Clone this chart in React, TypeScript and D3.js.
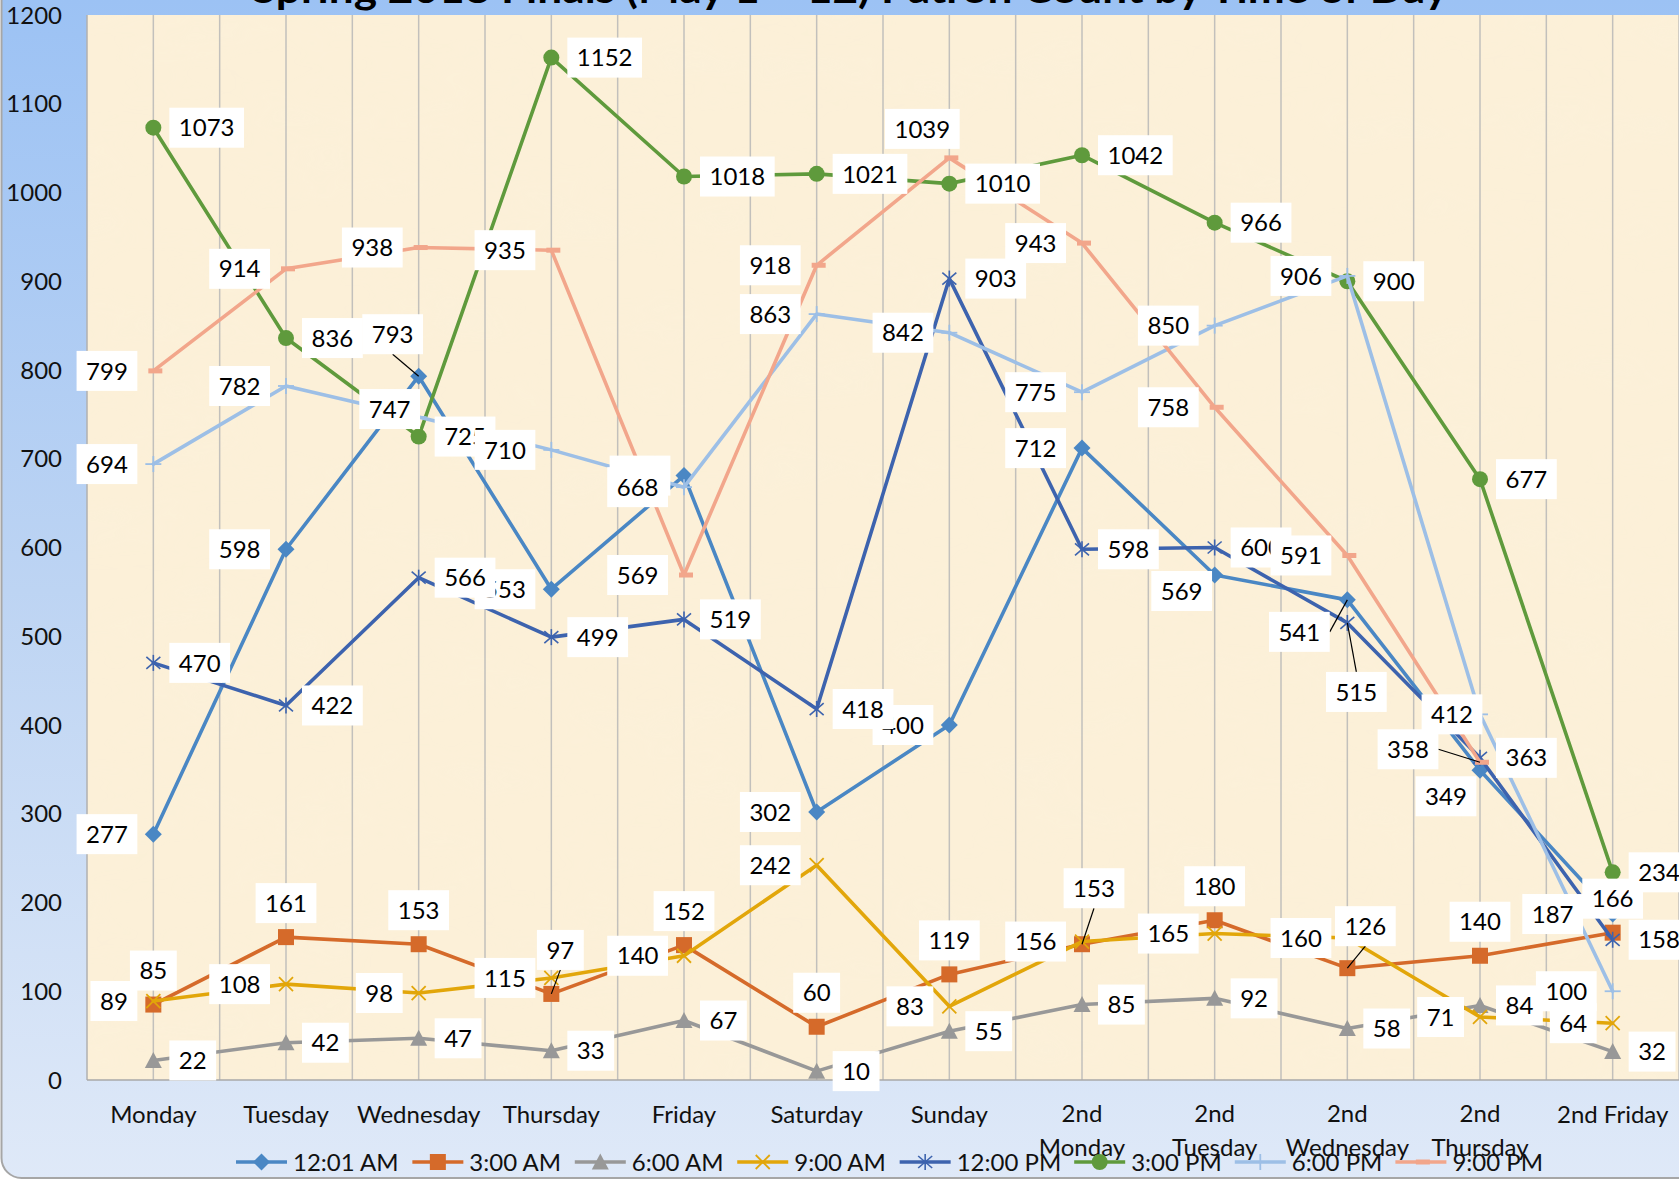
import React from 'react';
import * as d3 from 'd3';

// ---------- data ----------
const categories = ['Monday', 'Tuesday', 'Wednesday', 'Thursday', 'Friday', 'Saturday', 'Sunday', '2nd Monday', '2nd Tuesday', '2nd Wednesday', '2nd Thursday', '2nd Friday'];
const seriesNames = ['12:01 AM', '3:00 AM', '6:00 AM', '9:00 AM', '12:00 PM', '3:00 PM', '6:00 PM', '9:00 PM'];
const am1201 = [277, 598, 793, 553, 681, 302, 400, 712, 569, 541, 349, 187];
const am300 = [85, 161, 153, 97, 152, 60, 119, 153, 180, 126, 140, 166];
const am600 = [22, 42, 47, 33, 67, 10, 55, 85, 92, 58, 84, 32];
const am900 = [89, 108, 98, 115, 140, 242, 83, 156, 165, 160, 71, 64];
const pm1200 = [470, 422, 566, 499, 519, 418, 903, 598, 600, 515, 363, 158];
const pm300 = [1073, 836, 725, 1152, 1018, 1021, 1010, 1042, 966, 900, 677, 234];
const pm600 = [694, 782, 747, 710, 668, 863, 842, 775, 850, 906, 412, 100];
const pm900: (number | null)[] = [799, 914, 938, 935, 569, 918, 1039, 943, 758, 591, 358, null];
const yTicks = [0, 100, 200, 300, 400, 500, 600, 700, 800, 900, 1000, 1100, 1200];
const title = 'Spring 2018 Finals (May 1 \u2013 12) Patron Count by Time of Day';

const seriesValues: (number | null)[][] = [am1201, am300, am600, am900, pm1200, pm300, pm600, pm900];

// ---------- styles ----------
const colors = ['#4a87c4', '#d56a2a', '#989898', '#e2a60a', '#3d63ae', '#5f9a3c', '#9dbfe6', '#f2a68b'];
const markers = ['diamond', 'square', 'triangle', 'x', 'star', 'circle', 'plus', 'dash'];
const labelPos = ['left', 'above', 'right', 'left', 'right', 'right', 'left', 'left'];
// manual label offsets (px, relative to the point) where the chart moved a label
const labelOverrides: Record<string, { dx: number; dy: number; leader?: string; hidden?: boolean }> = {
  '0-2': { dx: -26, dy: -42, leader: 'b' },
  '0-4': { dx: -44, dy: 0, hidden: true },
  '0-8': { dx: -33, dy: 16 },
  '0-9': { dx: -48, dy: 32, leader: 'r' },
  '0-10': { dx: -34, dy: 26 },
  '0-11': { dx: -60, dy: 0, leader: 'r' },
  '1-3': { dx: 9, dy: -44, leader: 'b' },
  '1-7': { dx: 12, dy: -56, leader: 'b' },
  '1-9': { dx: 18, dy: -42, leader: 'b' },
  '4-9': { dx: 9, dy: 69, leader: 't' },
  '6-2': { dx: -29, dy: -8 },
  '6-10': { dx: -28, dy: 0 },
  '7-6': { dx: -27, dy: -29 },
  '7-10': { dx: -72, dy: -13, leader: 'r' },
};

const W = 1679;
const H = 1180;
const FONT = "Lato, 'Open Sans', 'Noto Sans', sans-serif";
const FS = 24;
const plot = { left: 87, right: 1679, top: 15, bottom: 1080 };

let ctx: CanvasRenderingContext2D | null = null;
function measure(text: string, size = FS, weight = 'normal') {
  if (!ctx) ctx = document.createElement('canvas').getContext('2d');
  if (!ctx) return text.length * size * 0.5;
  ctx.font = `${weight} ${size}px ${FONT}`;
  return ctx.measureText(text).width;
}

function Marker({ type, x, y, color }: { type: string; x: number; y: number; color: string }) {
  switch (type) {
    case 'diamond':
      return <path d={`M${x},${y - 8.5}L${x + 8.5},${y}L${x},${y + 8.5}L${x - 8.5},${y}Z`} fill={color} />;
    case 'square':
      return <rect x={x - 8} y={y - 8} width={16} height={16} fill={color} />;
    case 'triangle':
      return <path d={`M${x},${y - 8.5}L${x + 8.5},${y + 7.5}L${x - 8.5},${y + 7.5}Z`} fill={color} />;
    case 'x':
      return (
        <g stroke={color} strokeWidth={1.8}>
          <line x1={x - 7} y1={y - 7} x2={x + 7} y2={y + 7} />
          <line x1={x - 7} y1={y + 7} x2={x + 7} y2={y - 7} />
        </g>
      );
    case 'star':
      return (
        <g stroke={color} strokeWidth={1.6}>
          <line x1={x - 7} y1={y - 6} x2={x + 7} y2={y + 6} />
          <line x1={x - 7} y1={y + 6} x2={x + 7} y2={y - 6} />
          <line x1={x} y1={y - 8} x2={x} y2={y + 8} />
        </g>
      );
    case 'circle':
      return <circle cx={x} cy={y} r={8} fill={color} />;
    case 'plus':
      return (
        <g stroke={color} strokeWidth={1.8}>
          <line x1={x - 8} y1={y} x2={x + 8} y2={y} />
          <line x1={x} y1={y - 8} x2={x} y2={y + 8} />
        </g>
      );
    case 'dash':
      return <rect x={x - 5} y={y - 2.5} width={14} height={5} fill={color} />;
    default:
      return null;
  }
}

export default function App() {
  const x = d3.scalePoint<string>().domain(categories).range([plot.left, plot.right]).padding(0.5);
  const y = d3.scaleLinear().domain([0, 1200]).range([plot.bottom, plot.top]);
  const step = x.step();

  const line = d3
    .line<number | null>()
    .defined((d) => d != null)
    .x((_, i) => x(categories[i]) as number)
    .y((d) => y(d as number));

  // vertical gridlines at centers and band boundaries
  const gridXs: number[] = [];
  categories.forEach((c) => {
    const cx = x(c) as number;
    gridXs.push(cx);
    gridXs.push(cx + step / 2);
  });

  // labels
  const labels: any[] = [];
  seriesValues.forEach((vals, s) => {
    vals.forEach((v, i) => {
      if (v == null) return;
      const px = x(categories[i]) as number;
      const py = y(v);
      const txt = String(v);
      const w = measure(txt) + 19;
      const h = 40;
      let dx = 0;
      let dy = 0;
      const pos = labelPos[s];
      if (pos === 'right') dx = 16 + w / 2;
      else if (pos === 'left') dx = -(16 + w / 2);
      else if (pos === 'above') dy = -34;
      const ov = labelOverrides[`${s}-${i}`];
      let leader: string | undefined;
      let hidden = false;
      if (ov) {
        dx = ov.dx;
        dy = ov.dy;
        leader = ov.leader;
        hidden = !!ov.hidden;
      }
      const cx = px + dx;
      const cy = py + dy;
      let lx = cx;
      let ly = cy;
      if (leader === 'b') ly = cy + h / 2;
      else if (leader === 't') ly = cy - h / 2;
      else if (leader === 'r') lx = cx + w / 2;
      else if (leader === 'l') lx = cx - w / 2;
      labels.push({ key: `${s}-${i}`, txt, cx, cy, w, h, leader, lx, ly, px, py, hidden });
    });
  });

  // legend layout
  let lxPos = 236;
  const legendItems = seriesNames.map((name, s) => {
    const item = { name, s, x: lxPos };
    lxPos += 57 + measure(name) + 13;
    return item;
  });
  const legendY = 1162;

  return (
    <div style={{ position: 'absolute', left: 0, top: 0, width: W, height: H, overflow: 'hidden' }}>
      <svg width={W} height={H} style={{ display: 'block' }} fontFamily={FONT}>
        <defs>
          <linearGradient id="frameGrad" x1="0" y1="0" x2="0" y2={H} gradientUnits="userSpaceOnUse">
            <stop offset="0" stopColor="#9cc2f4" />
            <stop offset="0.5" stopColor="#bdd4f3" />
            <stop offset="1" stopColor="#dfe9f8" />
          </linearGradient>
          <filter id="parch" x="0" y="0" width="100%" height="100%">
            <feTurbulence type="fractalNoise" baseFrequency="0.008 0.02" numOctaves={3} seed={7} result="n" />
            <feColorMatrix
              in="n"
              type="matrix"
              values="0 0 0 0 0.95  0 0 0 0 0.88  0 0 0 0 0.72  0 0 0 1.6 -0.7"
            />
          </filter>
        </defs>
        {/* frame */}
        <rect x={1.5} y={-40} width={W + 40} height={1178 + 40} rx={20} ry={20} fill="url(#frameGrad)" stroke="#a6a6a6" strokeWidth={2} />
        {/* title (cut off at top) */}
        <text x={252} y={3} fontSize={40} fontWeight="bold" fill="#000" textLength={1196} lengthAdjust="spacingAndGlyphs">
          {title}
        </text>
        {/* plot area */}
        <rect x={plot.left} y={plot.top} width={plot.right - plot.left} height={plot.bottom - plot.top} fill="#fcf0d8" />
        <rect x={plot.left} y={plot.top} width={plot.right - plot.left} height={plot.bottom - plot.top} fill="#fff" filter="url(#parch)" opacity={0.35} />
        {gridXs.map((gx, i) => (
          <line key={i} x1={gx} x2={gx} y1={plot.top} y2={plot.bottom} stroke="#c2c0bc" strokeWidth={1.5} />
        ))}
        <line x1={plot.left} x2={plot.left} y1={plot.top} y2={plot.bottom} stroke="#b0b0b0" strokeWidth={1.5} />
        <line x1={plot.left} x2={plot.right} y1={plot.bottom} y2={plot.bottom} stroke="#a8a8a8" strokeWidth={1.5} />

        {/* y axis labels */}
        {yTicks.map((t) => (
          <text key={t} x={62} y={y(t)} dy="0.36em" textAnchor="end" fontSize={FS} fill="#111">
            {t}
          </text>
        ))}

        {/* category labels */}
        {categories.map((c) => {
          const cx = x(c) as number;
          const wrap = c.includes(' ') && measure(c) > 118;
          if (!wrap) {
            return (
              <text key={c} x={cx} y={1123} textAnchor="middle" fontSize={FS} fill="#111">
                {c}
              </text>
            );
          }
          const sp = c.indexOf(' ');
          return (
            <text key={c} x={cx} y={1122} textAnchor="middle" fontSize={FS} fill="#111">
              <tspan x={cx}>{c.slice(0, sp)}</tspan>
              <tspan x={cx} y={1156}>
                {c.slice(sp + 1)}
              </tspan>
            </text>
          );
        })}

        {/* series */}
        {seriesValues.map((vals, s) => (
          <g key={s}>
            <path d={line(vals) || ''} fill="none" stroke={colors[s]} strokeWidth={3.6} strokeLinejoin="round" strokeLinecap="round" />
            {vals.map((v, i) =>
              v == null ? null : <Marker key={i} type={markers[s]} x={x(categories[i]) as number} y={y(v)} color={colors[s]} />
            )}
          </g>
        ))}

        {/* data labels */}
        {labels.map((l) => (
          <g key={l.key}>
            {l.leader && <line x1={l.lx} y1={l.ly} x2={l.px} y2={l.py} stroke="#000" strokeWidth={1.2} />}
            <rect x={l.cx - l.w / 2} y={l.cy - l.h / 2} width={l.w} height={l.h} fill="#fff" />
            {!l.hidden && (
              <text x={l.cx} y={l.cy} dy="0.36em" textAnchor="middle" fontSize={FS} fill="#000">
                {l.txt}
              </text>
            )}
          </g>
        ))}

        {/* legend */}
        {legendItems.map((it) => (
          <g key={it.name}>
            <line x1={it.x} x2={it.x + 51} y1={legendY} y2={legendY} stroke={colors[it.s]} strokeWidth={3.6} />
            <Marker type={markers[it.s]} x={it.x + 25.5} y={legendY} color={colors[it.s]} />
            <text x={it.x + 57} y={legendY} dy="0.36em" fontSize={FS} fill="#111">
              {it.name}
            </text>
          </g>
        ))}
      </svg>
    </div>
  );
}
